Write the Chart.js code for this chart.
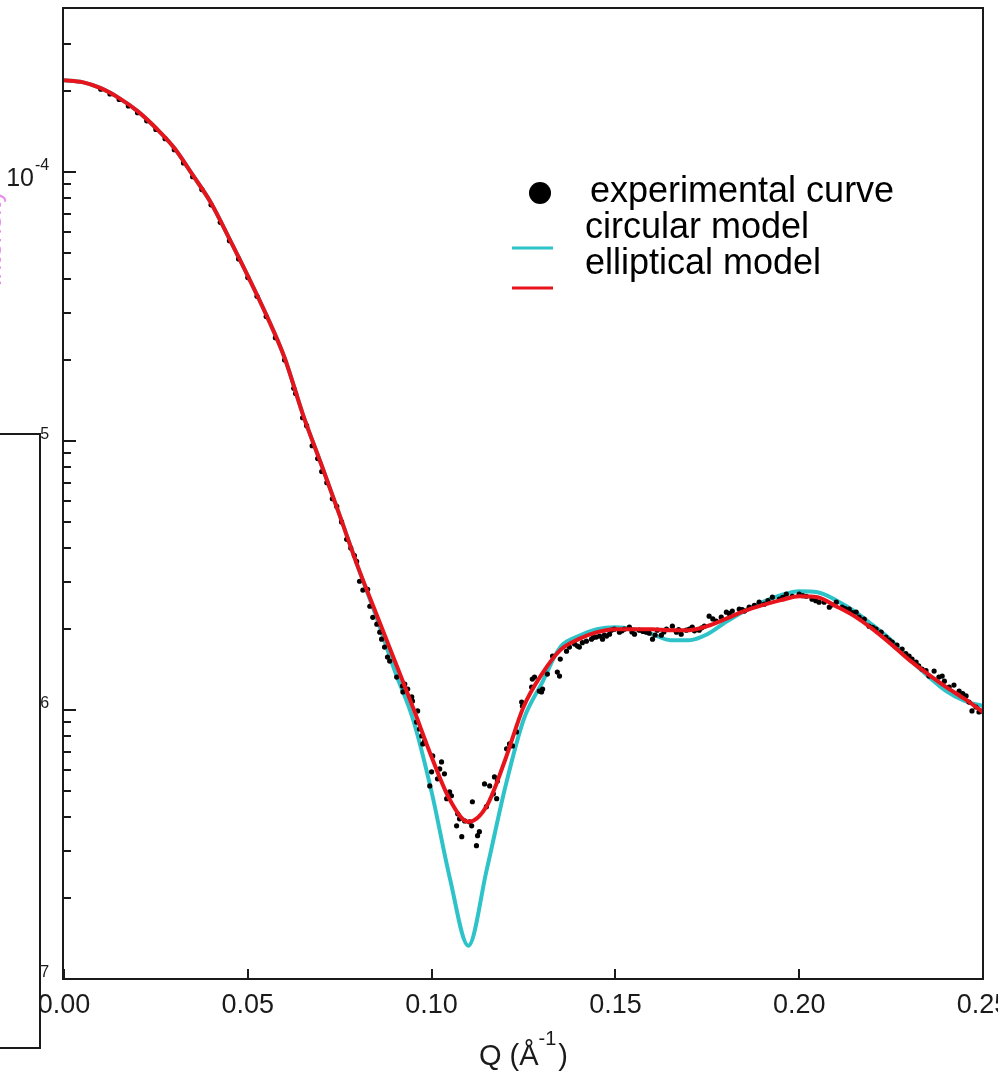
<!DOCTYPE html>
<html>
<head>
<meta charset="utf-8">
<script src="https://cdn.jsdelivr.net/npm/chart.js@4.4.0/dist/chart.umd.min.js"></script>
<style>
  html, body { margin: 0; padding: 0; background: #fff; overflow: hidden; }
  #c { display: block; }
</style>
</head>
<body>
<canvas id="c" width="998" height="1071"></canvas>
<script>
// ---------- data ----------
const qModel = [0, 0.005, 0.01, 0.015, 0.02, 0.025, 0.03, 0.035, 0.04, 0.045,
  0.05, 0.055, 0.06, 0.065, 0.07, 0.075, 0.08, 0.085, 0.09, 0.095,
  0.1, 0.105, 0.11, 0.115, 0.12, 0.125, 0.13, 0.135, 0.14, 0.145,
  0.15, 0.155, 0.16, 0.165, 0.17, 0.175, 0.18, 0.185, 0.19, 0.195,
  0.2, 0.205, 0.21, 0.215, 0.22, 0.225, 0.23, 0.235, 0.24, 0.245, 0.25];

const ellipticalI = [2.195e-4, 2.158e-4, 2.049e-4, 1.882e-4, 1.684e-4, 1.457e-4, 1.228e-4, 9.75e-5, 7.67e-5, 5.64e-5,
  4.11e-5, 2.95e-5, 2.04e-5, 1.254e-5, 8.18e-6, 5.29e-6, 3.39e-6, 2.271e-6, 1.520e-6, 1.017e-6,
  6.69e-7, 4.63e-7, 3.84e-7, 4.40e-7, 6.52e-7, 1.026e-6, 1.360e-6, 1.670e-6, 1.834e-6, 1.947e-6,
  1.998e-6, 1.998e-6, 1.998e-6, 1.981e-6, 1.981e-6, 2.050e-6, 2.180e-6, 2.331e-6, 2.453e-6, 2.560e-6,
  2.649e-6, 2.627e-6, 2.432e-6, 2.233e-6, 1.998e-6, 1.757e-6, 1.532e-6, 1.360e-6, 1.217e-6, 1.099e-6, 9.83e-7];

const circularI = [2.195e-4, 2.158e-4, 2.049e-4, 1.882e-4, 1.684e-4, 1.457e-4, 1.228e-4, 9.75e-5, 7.67e-5, 5.64e-5,
  4.11e-5, 2.95e-5, 2.04e-5, 1.254e-5, 8.18e-6, 5.29e-6, 3.39e-6, 2.211e-6, 1.395e-6, 9.18e-7,
  4.96e-7, 2.36e-7, 1.33e-7, 2.55e-7, 5.14e-7, 9.18e-7, 1.259e-6, 1.713e-6, 1.882e-6, 1.998e-6,
  2.032e-6, 1.998e-6, 1.914e-6, 1.818e-6, 1.818e-6, 1.914e-6, 2.121e-6, 2.331e-6, 2.516e-6, 2.672e-6,
  2.764e-6, 2.741e-6, 2.560e-6, 2.331e-6, 2.067e-6, 1.818e-6, 1.546e-6, 1.337e-6, 1.176e-6, 1.080e-6, 1.035e-6];

const qExp = [0.0100, 0.0125, 0.0150, 0.0175, 0.0200, 0.0225, 0.0250, 0.0275, 0.0300, 0.0325,
  0.0350, 0.0375, 0.0400, 0.0425, 0.0450, 0.0475, 0.0500, 0.0525, 0.0550, 0.0575,
  0.0600, 0.0625, 0.0649, 0.0675, 0.0701, 0.0742, 0.0769, 0.0796, 0.0804, 0.0813,
  0.0826, 0.0832, 0.0840, 0.0851, 0.0859, 0.0864, 0.0872, 0.0880, 0.0886, 0.0905,
  0.0921, 0.0922, 0.0927, 0.0935, 0.0946, 0.0948, 0.0959, 0.0962, 0.0967, 0.0973,
  0.0976, 0.0981, 0.0995, 0.1000, 0.1003, 0.1016, 0.1022, 0.1027, 0.1035, 0.1041,
  0.1049, 0.1054, 0.1068, 0.1071, 0.1076, 0.1082, 0.1090, 0.1103, 0.1109, 0.1111,
  0.1122, 0.1125, 0.1130, 0.1144, 0.1149, 0.1158, 0.1168, 0.1171, 0.1177, 0.1179,
  0.1204, 0.1212, 0.1220, 0.1231, 0.1245, 0.1247, 0.1272, 0.1274, 0.1280, 0.1293,
  0.1299, 0.1302, 0.1315, 0.1329, 0.1342, 0.1348, 0.1350, 0.1367, 0.1375, 0.1389,
  0.1397, 0.1402, 0.1421, 0.1435, 0.1448, 0.1457, 0.1465, 0.1476, 0.1484, 0.1489,
  0.1497, 0.1511, 0.1524, 0.1538, 0.1552, 0.1565, 0.1584, 0.1592, 0.1601, 0.1614,
  0.1625, 0.1639, 0.1655, 0.1666, 0.1679, 0.1693, 0.1701, 0.1709, 0.1728, 0.1742,
  0.1755, 0.1774, 0.1788, 0.1802, 0.1818, 0.1837, 0.1851, 0.1864, 0.1891, 0.1905,
  0.1927, 0.1946, 0.1965, 0.1981, 0.2000, 0.2019, 0.2035, 0.2054, 0.2068, 0.2082,
  0.2101, 0.2117, 0.2136, 0.2155, 0.2163, 0.2177, 0.2190, 0.2209, 0.2223, 0.2236,
  0.2253, 0.2266, 0.2280, 0.2299, 0.2307, 0.2318, 0.2334, 0.2353, 0.2367, 0.2380,
  0.2389, 0.2408, 0.2421, 0.2435, 0.2454, 0.2470, 0.2481, 0.2489,
  0.0630, 0.0660, 0.0690, 0.0715, 0.0730, 0.0755, 0.0780, 0.0790,
  0.1410, 0.1440, 0.1470, 0.1518, 0.1545, 0.1575, 0.1608, 0.1632, 0.1672, 0.1715,
  0.1735, 0.1765, 0.1810, 0.1845, 0.1878, 0.1915, 0.1955, 0.2010, 0.2045, 0.2090,
  0.2125, 0.2145, 0.2200, 0.2245, 0.2290, 0.2325, 0.2345, 0.2395, 0.2445, 0.2462, 0.2495];

const iExp = [2.03e-4, 1.95e-4, 1.86e-4, 1.76e-4, 1.66e-4, 1.55e-4, 1.44e-4, 1.33e-4, 1.21e-4, 1.08e-4,
  9.6e-5, 8.6e-5, 7.55e-5, 6.5e-5, 5.55e-5, 4.75e-5, 4.05e-5, 3.45e-5, 2.9e-5, 2.42e-5,
  2.0e-5, 1.57e-5, 1.22e-5, 9.6e-6, 7.7e-6, 5.71e-6, 4.31e-6, 3.57e-6, 3.01e-6, 2.79e-6,
  2.81e-6, 2.43e-6, 2.21e-6, 2.085e-6, 1.947e-6, 1.834e-6, 1.713e-6, 1.573e-6, 1.520e-6, 1.325e-6,
  1.228e-6, 1.167e-6, 1.249e-6, 1.196e-6, 1.118e-6, 1.080e-6, 9.02e-7, 9.92e-7, 8.50e-7, 8.01e-7,
  7.48e-7, 7.67e-7, 5.22e-7, 5.89e-7, 6.75e-7, 5.55e-7, 6.04e-7, 6.41e-7, 5.79e-7, 4.68e-7,
  4.96e-7, 4.80e-7, 3.71e-7, 4.11e-7, 3.94e-7, 3.38e-7, 3.87e-7, 3.84e-7, 3.71e-7, 4.56e-7,
  3.13e-7, 3.41e-7, 3.53e-7, 5.31e-7, 4.37e-7, 5.22e-7, 4.88e-7, 5.64e-7, 4.68e-7, 5.45e-7,
  7.17e-7, 7.48e-7, 7.35e-7, 8.29e-7, 1.071e-6, 1.035e-6, 1.217e-6, 1.303e-6, 1.325e-6, 1.176e-6,
  1.167e-6, 1.196e-6, 1.360e-6, 1.587e-6, 1.383e-6, 1.337e-6, 1.546e-6, 1.655e-6, 1.713e-6, 1.758e-6,
  1.728e-6, 1.713e-6, 1.803e-6, 1.834e-6, 1.866e-6, 1.882e-6, 1.834e-6, 1.882e-6, 1.914e-6, 1.981e-6,
  1.998e-6, 1.947e-6, 1.998e-6, 2.032e-6, 1.914e-6, 1.981e-6, 1.947e-6, 1.930e-6, 1.834e-6, 1.981e-6,
  1.898e-6, 1.998e-6, 2.050e-6, 1.947e-6, 1.914e-6, 1.981e-6, 1.998e-6, 2.032e-6, 1.981e-6, 2.050e-6,
  2.232e-6, 2.139e-6, 2.214e-6, 2.310e-6, 2.331e-6, 2.371e-6, 2.331e-6, 2.412e-6, 2.517e-6, 2.474e-6,
  2.626e-6, 2.582e-6, 2.694e-6, 2.648e-6, 2.694e-6, 2.648e-6, 2.582e-6, 2.517e-6, 2.517e-6, 2.412e-6,
  2.517e-6, 2.412e-6, 2.371e-6, 2.310e-6, 2.214e-6, 2.176e-6, 2.050e-6, 1.998e-6, 1.947e-6, 1.866e-6,
  1.788e-6, 1.743e-6, 1.684e-6, 1.587e-6, 1.546e-6, 1.507e-6, 1.419e-6, 1.337e-6, 1.395e-6, 1.325e-6,
  1.337e-6, 1.217e-6, 1.238e-6, 1.176e-6, 1.128e-6, 9.92e-7, 1.026e-6, 9.83e-7,
  1.50e-5, 1.14e-5, 8.6e-6, 7.0e-6, 6.1e-6, 5.0e-6, 4.0e-6, 3.75e-6,
  1.78e-6, 1.86e-6, 1.90e-6, 1.97e-6, 1.95e-6, 1.96e-6, 1.90e-6, 1.95e-6, 1.99e-6, 1.97e-6,
  2.02e-6, 2.18e-6, 2.28e-6, 2.36e-6, 2.45e-6, 2.55e-6, 2.62e-6, 2.66e-6, 2.55e-6, 2.46e-6,
  2.38e-6, 2.30e-6, 2.03e-6, 1.82e-6, 1.62e-6, 1.46e-6, 1.40e-6, 1.28e-6, 1.15e-6, 1.07e-6, 9.9e-7];

const xTickValues = [0, 0.05, 0.10, 0.15, 0.20, 0.25];
const xTickLabels = ['0.00', '0.05', '0.10', '0.15', '0.20', '0.25'];
const yMajorValues = [1e-7, 1e-6, 1e-5, 1e-4];
const yMajorExponents = ['-7', '-6', '-5', '-4'];
const yMinorMultipliers = [2, 3, 4, 5, 6, 7, 8, 9];

const legendLabels = ['experimental curve', 'circular model', 'elliptical model'];
const xTitle = ['Q (\u00C5', '-1', ')'];

// ---------- styles ----------
const RED = '#e8141c';
const CYAN = '#2ec3c8';
const FONT = '"Liberation Sans", Arial, Helvetica, sans-serif';

const toPts = (xs, ys) => xs.map((x, i) => ({ x: x, y: ys[i] }));

const deco = {
  id: 'deco',
  afterDraw(chart) {
    const ctx = chart.ctx, xs = chart.scales.x, ys = chart.scales.y, a = chart.chartArea;
    ctx.save();
    ctx.strokeStyle = '#1a1a1a';
    ctx.fillStyle = '#1a1a1a';
    ctx.lineWidth = 2;
    // frame
    ctx.strokeRect(a.left - 1, a.top, a.right - a.left + 1, a.bottom - a.top);

    // x ticks (inward) and labels
    ctx.beginPath();
    xTickValues.forEach(v => {
      const px = Math.round(xs.getPixelForValue(v));
      ctx.moveTo(px, a.bottom);
      ctx.lineTo(px, a.bottom - 10);
    });
    ctx.stroke();
    ctx.font = '27px ' + FONT;
    ctx.textAlign = 'center';
    ctx.textBaseline = 'alphabetic';
    xTickValues.forEach((v, i) => {
      ctx.fillText(xTickLabels[i], xs.getPixelForValue(v), 1013);
    });

    // y ticks (inward): majors and minors
    ctx.beginPath();
    yMajorValues.forEach(v => {
      const py = Math.round(ys.getPixelForValue(v));
      ctx.moveTo(a.left, py); ctx.lineTo(a.left + 12, py);
      yMinorMultipliers.forEach(m => {
        const p = Math.round(ys.getPixelForValue(v * m));
        if (p > a.top + 12) {
          ctx.moveTo(a.left, p); ctx.lineTo(a.left + 7, p);
        }
      });
    });
    ctx.stroke();

    // y labels 10^n
    yMajorValues.forEach((v, i) => {
      const py = ys.getPixelForValue(v);
      ctx.font = '25px ' + FONT;
      ctx.textAlign = 'right';
      ctx.fillText('10', 34, py + 14);
      ctx.font = '16px ' + FONT;
      ctx.textAlign = 'left';
      ctx.fillText(yMajorExponents[i], 35, py - 2);
    });

    // x title Q (Å^-1)
    ctx.font = '29px ' + FONT;
    const w1 = ctx.measureText(xTitle[0]).width;
    const w3 = ctx.measureText(xTitle[2]).width;
    ctx.font = '20px ' + FONT;
    const w2 = ctx.measureText(xTitle[1]).width;
    const cx = (a.left + a.right) / 2;
    let sx = cx - (w1 + w2 + w3 + 2) / 2;
    ctx.textAlign = 'left';
    ctx.font = '29px ' + FONT;
    ctx.fillText(xTitle[0], sx, 1065);
    ctx.font = '20px ' + FONT;
    ctx.fillText(xTitle[1], sx + w1, 1045);
    ctx.font = '29px ' + FONT;
    ctx.fillText(xTitle[2], sx + w1 + w2 + 2, 1065);

    // legend
    ctx.fillStyle = '#000';
    ctx.beginPath();
    ctx.arc(540, 193, 11, 0, Math.PI * 2);
    ctx.fill();
    ctx.font = '36px ' + FONT;
    ctx.textAlign = 'left';
    ctx.fillText(legendLabels[0], 590, 202);
    ctx.fillText(legendLabels[1], 585, 238);
    ctx.fillText(legendLabels[2], 585, 274);
    ctx.lineWidth = 3;
    ctx.strokeStyle = CYAN;
    ctx.beginPath(); ctx.moveTo(512, 248); ctx.lineTo(553, 248); ctx.stroke();
    ctx.strokeStyle = RED;
    ctx.beginPath(); ctx.moveTo(512, 288); ctx.lineTo(553, 288); ctx.stroke();

    // cropped magenta text fragment at the very left edge
    ctx.save();
    ctx.translate(1, 238);
    ctx.rotate(-Math.PI / 2);
    ctx.fillStyle = 'rgba(226,110,232,0.8)';
    ctx.font = '26px ' + FONT;
    ctx.textAlign = 'center';
    ctx.fillText('Intensity', 0, 0);
    ctx.restore();

    // white overlay panel with border on the left
    ctx.fillStyle = '#fff';
    ctx.fillRect(0, 434, 40, 614);
    ctx.strokeStyle = '#1a1a1a';
    ctx.lineWidth = 2;
    ctx.beginPath();
    ctx.moveTo(0, 434); ctx.lineTo(40, 434); ctx.lineTo(40, 1048); ctx.lineTo(0, 1048);
    ctx.stroke();
    ctx.restore();
  }
};

new Chart(document.getElementById('c'), {
  type: 'scatter',
  data: {
    datasets: [
      {
        label: legendLabels[2],
        data: toPts(qModel, ellipticalI),
        showLine: true,
        borderColor: RED,
        borderWidth: 4,
        pointRadius: 0,
        tension: 0.4,
        cubicInterpolationMode: 'monotone',
        order: 0
      },
      {
        label: legendLabels[0],
        data: toPts(qExp, iExp),
        showLine: false,
        pointRadius: 2.6,
        backgroundColor: '#000',
        borderWidth: 0,
        order: 1
      },
      {
        label: legendLabels[1],
        data: toPts(qModel, circularI),
        showLine: true,
        borderColor: CYAN,
        borderWidth: 4,
        pointRadius: 0,
        tension: 0.4,
        cubicInterpolationMode: 'monotone',
        order: 2
      }
    ]
  },
  options: {
    responsive: false,
    animation: false,
    devicePixelRatio: 1,
    layout: { padding: { left: 64, right: 15, top: 8, bottom: 92 } },
    plugins: { legend: { display: false }, tooltip: { enabled: false } },
    scales: {
      x: { type: 'linear', min: 0, max: 0.25, display: false },
      y: { type: 'logarithmic', min: 1e-7, max: 4.07e-4, display: false }
    }
  },
  plugins: [deco]
});
</script>
</body>
</html>
